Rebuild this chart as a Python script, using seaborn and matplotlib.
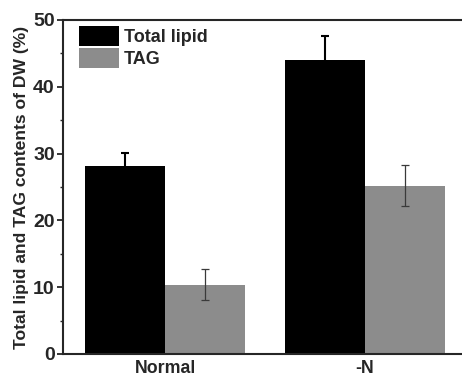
# Total lipid and TAG content, Normal vs -N
import pandas as pd
import seaborn as sns
import matplotlib.pyplot as plt
from matplotlib.ticker import MultipleLocator

conditions = ["Normal", "-N"]
series = ["Total lipid", "TAG"]
total_lipid = [28.2, 44.0]
total_lipid_err = [1.9, 3.6]
tag = [10.4, 25.2]
tag_err = [2.3, 3.1]

df = pd.DataFrame({
    "condition": conditions * 2,
    "series": [series[0]] * 2 + [series[1]] * 2,
    "value": total_lipid + tag,
})

sns.set_style("ticks")
plt.rcParams["font.family"] = ["Liberation Sans", "DejaVu Sans"]
plt.rcParams["font.weight"] = "bold"

fig, ax = plt.subplots(figsize=(4.62, 3.77), dpi=100)
ax.set_position([63 / 462, 1 - 354 / 377, 404 / 462, 334 / 377])

sns.barplot(data=df, x="condition", y="value", hue="series", order=conditions,
            hue_order=series, palette=["black", "#8c8c8c"], saturation=1,
            errorbar=None, linewidth=0, ax=ax)

# error bars at the bar centres
errs = [total_lipid_err, tag_err]
ecolors = ["black", "#3a3a3a"]
elw = [1.5, 0.9]
for cont, err, ec, lw in zip(ax.containers, errs, ecolors, elw):
    xs = [p.get_x() + p.get_width() / 2 for p in cont.patches]
    ys = [p.get_height() for p in cont.patches]
    ax.errorbar(xs, ys, yerr=err, fmt="none", ecolor=ec, elinewidth=lw,
                capsize=2.9, capthick=lw)

ax.set_xlim(-0.51, 1.51)
ax.set_ylim(0, 50)
ax.yaxis.set_major_locator(MultipleLocator(10))
ax.yaxis.set_minor_locator(MultipleLocator(5))
ax.tick_params(axis="y", which="major", direction="out", length=4, width=1.3,
               labelsize=14, pad=2)
ax.tick_params(axis="y", which="minor", direction="out", length=2.2, width=1)
ax.tick_params(axis="x", length=0, labelsize=12.8, pad=4)
for s in ax.spines.values():
    s.set_linewidth(1.5)

ax.set_xlabel("")
ax.set_ylabel("Total lipid and TAG contents of DW (%)", fontsize=12.6, fontweight="bold",
              labelpad=3)

handles, labels = ax.get_legend_handles_labels()
ax.legend(handles, labels, loc="upper left", bbox_to_anchor=(16 / 404, 1 - 6 / 334),
          frameon=False, fontsize=13, handlelength=2.2, handleheight=1.33,
          labelspacing=0.1, handletextpad=0.3, borderaxespad=0, borderpad=0)

fig.savefig("out.png", dpi=100)
